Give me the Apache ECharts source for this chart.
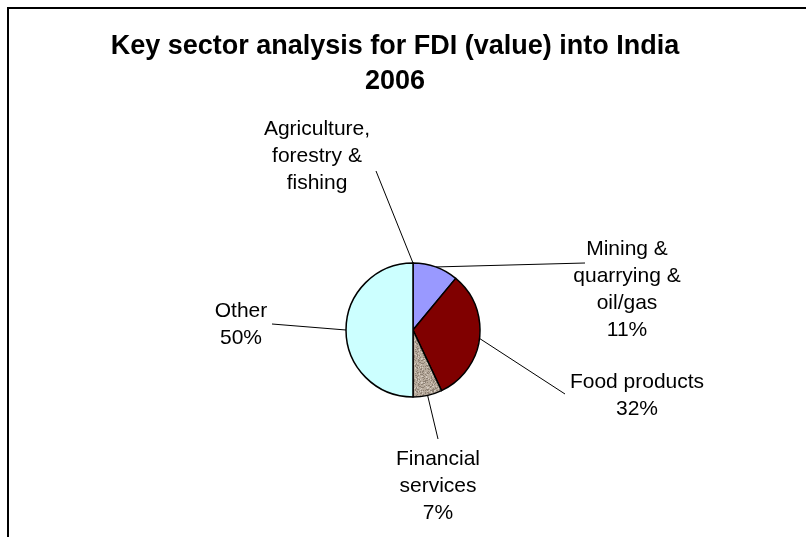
<!DOCTYPE html>
<html>
<head>
<meta charset="utf-8">
<script src="https://cdn.jsdelivr.net/npm/echarts@6/dist/echarts.min.js"></script>
<style>
  html, body { margin: 0; padding: 0; background: #fff; }
  #chart { width: 806px; height: 537px; }
</style>
</head>
<body>
<div id="chart"></div>
<script>
// Sector shares of FDI value into India, 2006 (percent)
const sectors = [
  'Agriculture,\nforestry &\nfishing',
  'Mining &\nquarrying &\noil/gas',
  'Food products',
  'Financial\nservices',
  'Other'
];
const shares = [0, 11, 32, 7, 50];

// Label placement: [text dx, text dy, line end dx, line end dy] from the pie centre
const labelSpots = [
  [-96, -174, -37, -159],
  [214, -40, 172, -67],
  [224, 66, 152, 64],
  [25, 156, 25, 109],
  [-172, -5, -141, -6]
];

const CX = 413, CY = 330, R = 67;

// Speckled stone-like fill for the financial services slice
function speckle() {
  const c = document.createElement('canvas');
  c.width = 24; c.height = 24;
  const g = c.getContext('2d');
  g.fillStyle = '#b8ab9d';
  g.fillRect(0, 0, 24, 24);
  for (let y = 0; y < 24; y++) {
    for (let x = 0; x < 24; x++) {
      const h = Math.abs(Math.sin(x * 12.9898 + y * 78.233) * 43758.5453) % 1;
      if (h < 0.22) { g.fillStyle = '#8f8275'; g.fillRect(x, y, 1, 1); }
      else if (h > 0.85) { g.fillStyle = '#d6ccc2'; g.fillRect(x, y, 1, 1); }
    }
  }
  return c;
}

const colors = ['#ffffcc', '#9999ff', '#800000', { image: speckle(), repeat: 'repeat' }, '#ccffff'];

const chart = echarts.init(document.getElementById('chart'), null, { renderer: 'canvas' });

chart.setOption({
  animation: false,
  backgroundColor: '#ffffff',
  title: {
    text: 'Key sector analysis for FDI (value) into India\n2006',
    left: 395,
    top: 29,
    textAlign: 'center',
    padding: 0,
    textStyle: {
      fontFamily: 'Liberation Sans, Arial, sans-serif',
      fontWeight: 'bold',
      fontSize: 27,
      lineHeight: 35,
      color: '#000'
    }
  },
  graphic: [
    { type: 'line', shape: { x1: 7, y1: 8, x2: 806, y2: 8 }, style: { stroke: '#000', lineWidth: 2 } },
    { type: 'line', shape: { x1: 8, y1: 7, x2: 8, y2: 537 }, style: { stroke: '#000', lineWidth: 2 } }
  ],
  series: [{
    type: 'pie',
    center: [CX, CY],
    radius: R,
    startAngle: 90,
    clockwise: true,
    avoidLabelOverlap: false,
    minShowLabelAngle: 0,
    itemStyle: { borderColor: '#000', borderWidth: 1.5 },
    label: {
      show: true,
      position: 'outside',
      fontFamily: 'Liberation Sans, Arial, sans-serif',
      fontSize: 21,
      lineHeight: 27,
      color: '#000',
      align: 'center',
      formatter: p => p.value === 0 ? p.name : p.name + '\n' + p.percent + '%'
    },
    labelLine: { show: true, length: 10, length2: 0, lineStyle: { color: '#000', width: 1 } },
    labelLayout: function (params) {
      const s = labelSpots[params.dataIndex];
      const start = params.labelLinePoints ? params.labelLinePoints[0] : [CX, CY - R];
      return {
        x: CX + s[0],
        y: CY + s[1],
        align: 'center',
        verticalAlign: 'middle',
        labelLinePoints: [start, [CX + s[2], CY + s[3]], [CX + s[2], CY + s[3]]]
      };
    },
    data: sectors.map((name, i) => ({
      name: name,
      value: shares[i],
      itemStyle: { color: colors[i] }
    }))
  }]
});
</script>
</body>
</html>
